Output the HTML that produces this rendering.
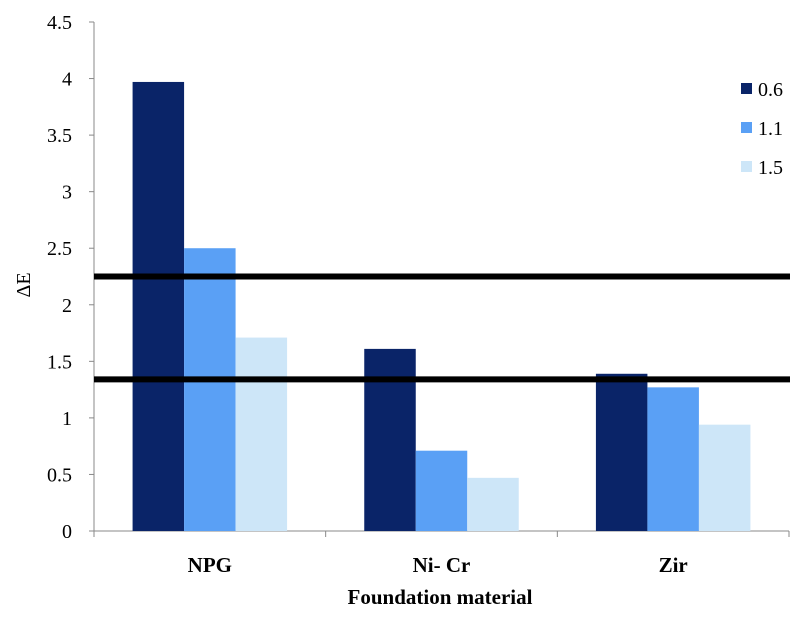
<!DOCTYPE html>
<html><head><meta charset="utf-8"><style>
body{margin:0;background:#fff;}
svg text{font-family:"Liberation Serif",serif;fill:#000;}
</style></head><body>
<svg id="chart" width="803" height="631" xmlns="http://www.w3.org/2000/svg"></svg>
<script>
const categories=["NPG","Ni- Cr","Zir"];
const seriesNames=["0.6","1.1","1.5"];
const s06=[3.97,1.61,1.39];
const s11=[2.5,0.71,1.27];
const s15=[1.71,0.47,0.94];
const yTicks=[0,0.5,1,1.5,2,2.5,3,3.5,4,4.5];
const refLines=[2.25,1.34];
const colors=["#0a2468","#5aa0f5","#cde6f8"];
const svg=document.getElementById('chart');
const NS="http://www.w3.org/2000/svg";
const x0=94,x1=789,y0=531,yTop=22,yMax=4.5;
const y=v=>y0-(v/yMax)*(y0-yTop);
const catW=(x1-x0)/categories.length;
function mk(t,a,txt){const e=document.createElementNS(NS,t);for(const k in a)e.setAttribute(k,a[k]);if(txt!==undefined)e.textContent=txt;svg.appendChild(e);return e;}
let e;
e=mk('line',{x1:x0,y1:yTop,x2:x0,y2:y0,stroke:'#888','stroke-width':1});


e=mk('line',{x1:x0,y1:y0,x2:x1,y2:y0,stroke:'#888','stroke-width':1});


yTicks.forEach(t=>{
 mk('line',{x1:x0-5,y1:y(t),x2:x0,y2:y(t),stroke:'#888'});
 e=mk('text',{x:x0-22,y:y(t)+7,'text-anchor':'end','font-size':20},String(t));
 
 
});
for(let i=0;i<=categories.length;i++){const xx=x0+i*catW;mk('line',{x1:xx,y1:y0,x2:xx,y2:y0+6,stroke:'#888'});}
const series=[s06,s11,s15];
const bw=51.5;
categories.forEach((c,i)=>{
 const cx=x0+catW*(i+0.5);
 series.forEach((s,j)=>{
  const bx=cx-bw*1.5+j*bw;
  e=mk('rect',{x:bx,y:y(s[i]),width:bw,height:y0-y(s[i]),fill:colors[j]});
  
  
 });
 e=mk('text',{x:cx,y:572,'text-anchor':'middle','font-size':21,'font-weight':'bold'},c);
 
 
});
refLines.forEach(v=>{
 e=mk('line',{x1:x0,y1:y(v),x2:x1+1,y2:y(v),stroke:'#000','stroke-width':6});
 
 
});
seriesNames.forEach((n,j)=>{
 const ly=89+j*39;
 e=mk('rect',{x:741,y:ly-6,width:11,height:11,fill:colors[j]});
 
 
 e=mk('text',{x:758,y:ly+7,'font-size':20},n);
 
 
});
e=mk('text',{x:440,y:604,'text-anchor':'middle','font-size':21,'font-weight':'bold'},'Foundation material');


e=mk('text',{x:0,y:0,'text-anchor':'middle','font-size':20,transform:'translate(30,285) rotate(-90)'},'ΔE');


</script>
</body></html>
